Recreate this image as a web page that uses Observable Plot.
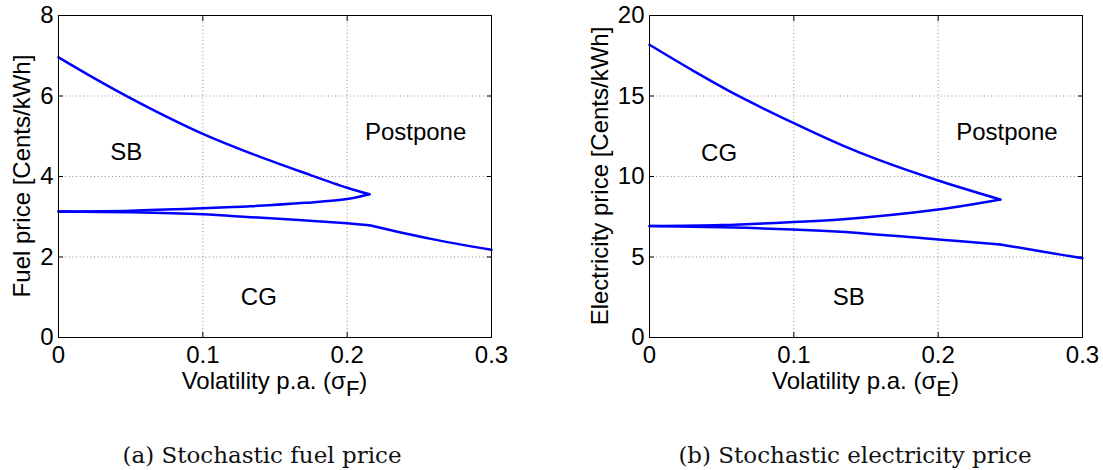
<!DOCTYPE html>
<html><head><meta charset="utf-8">
<script src="https://cdn.jsdelivr.net/npm/d3@7"></script>
<script src="https://cdn.jsdelivr.net/npm/@observablehq/plot@0.6"></script>
<style>
html,body{margin:0;padding:0;background:#fff;}
#fig{position:relative;width:1103px;height:470px;overflow:hidden;background:#fff;}
.panel{position:absolute;top:0;}
.cap{position:absolute;top:440px;font-family:"DejaVu Serif",serif;font-size:23px;line-height:30px;text-align:center;color:#111;white-space:nowrap;transform:translateX(-50%);}
</style></head><body>
<div id="fig">
  <div id="left" class="panel" style="left:0px"></div>
  <div id="right" class="panel" style="left:552px"></div>
  <div class="cap" style="left:262px">(a) Stochastic fuel price</div>
  <div class="cap" style="left:855px">(b) Stochastic electricity price</div>
</div>
<script>
// ---- axes ----
const xTicks = [0, 0.1, 0.2, 0.3];
const xGrid = [0.1, 0.2];
const fuelYTicks = [0, 2, 4, 6, 8];
const fuelYGrid = [2, 4, 6];
const elecYTicks = [0, 5, 10, 15, 20];
const elecYGrid = [5, 10, 15];

// ---- (a) stochastic fuel price ----
const fuelUpperX = [0, 0.021, 0.044, 0.0675, 0.1, 0.1365, 0.171, 0.2, 0.2155];
const fuelUpperY = [6.96, 6.52, 6.06, 5.62, 5.06, 4.53, 4.08, 3.72, 3.56];
const fuelMiddleX = [0, 0.05, 0.1, 0.133, 0.171, 0.2, 0.2155];
const fuelMiddleY = [3.13, 3.15, 3.21, 3.26, 3.345, 3.44, 3.56];
const fuelLowerLeftX = [0, 0.05, 0.1, 0.133, 0.2, 0.2155];
const fuelLowerLeftY = [3.13, 3.11, 3.06, 2.99, 2.84, 2.79];
const fuelLowerRightX = [0.2155, 0.258, 0.3];
const fuelLowerRightY = [2.79, 2.45, 2.18];
const fuelRegionLabels = ["SB", "Postpone", "CG"];
const fuelRegionX = [0.047, 0.2474, 0.1388];
const fuelRegionY = [4.6, 5.1, 0.99];

// ---- (b) stochastic electricity price ----
const elecUpperX = [0, 0.0306, 0.0606, 0.1, 0.1344, 0.1588, 0.2, 0.243];
const elecUpperY = [18.18, 16.55, 15.05, 13.31, 11.9, 11.03, 9.75, 8.57];
const elecMiddleX = [0, 0.05, 0.1, 0.1323, 0.2, 0.243];
const elecMiddleY = [6.92, 6.98, 7.17, 7.33, 7.95, 8.57];
const elecLowerLeftX = [0, 0.05, 0.1, 0.1323, 0.2, 0.243];
const elecLowerLeftY = [6.92, 6.85, 6.71, 6.57, 6.09, 5.78];
const elecLowerRightX = [0.243, 0.288, 0.3];
const elecLowerRightY = [5.78, 5.10, 4.92];
const elecRegionLabels = ["CG", "Postpone", "SB"];
const elecRegionX = [0.0482, 0.2476, 0.138];
const elecRegionY = [11.44, 12.75, 2.52];

function series(name, xs, ys) { return xs.map((x, i) => ({curve: name, x, y: ys[i]})); }
function regions(labels, xs, ys) { return labels.map((label, i) => ({label, x: xs[i], y: ys[i]})); }

const FS = 24;
const FONT = "'Liberation Sans', Arial, Helvetica, sans-serif";

function panel({width, marginLeft, marginRight, yDomain, yTicks, yGrid, lines, regs, ylabel, sub, ylabelOffset}) {
  const chart = Plot.plot({
    width, height: 400,
    marginLeft, marginRight, marginTop: 15, marginBottom: 63,
    style: {fontFamily: FONT, fontSize: FS + "px", color: "#000", background: "#fff"},
    x: {domain: [0, 0.3]},
    y: {domain: yDomain},
    marks: [
      Plot.gridX(xGrid, {stroke: "#8c8c8c", strokeOpacity: 1, strokeDasharray: "1,2.6"}),
      Plot.gridY(yGrid, {stroke: "#8c8c8c", strokeOpacity: 1, strokeDasharray: "1,2.6"}),
      Plot.axisX(xTicks, {anchor: "bottom", tickSize: 0, tickPadding: 8, fontSize: FS, tickFormat: d => String(d), label: null}),
      Plot.axisX(xTicks, {anchor: "bottom", tickSize: -5, fill: "none", label: null}),
      Plot.axisX(xTicks, {anchor: "top", tickSize: -5, fill: "none", label: null}),
      Plot.axisY(yTicks, {anchor: "left", tickSize: 0, tickPadding: 5, fontSize: FS, tickFormat: d => String(d), label: null}),
      Plot.axisY(yTicks, {anchor: "left", tickSize: -5, fill: "none", label: null}),
      Plot.axisY(yTicks, {anchor: "right", tickSize: -5, fill: "none", label: null}),
      Plot.line(lines, {x: "x", y: "y", z: "curve", stroke: "#0000ff", strokeWidth: 2.5, strokeLinejoin: "round", curve: "catmull-rom"}),
      Plot.text(regs, {x: "x", y: "y", text: "label", fontSize: FS}),
      Plot.frame({stroke: "#000", strokeWidth: 1})
    ]
  });
  const xs = chart.scale("x"), ys = chart.scale("y");
  const svg = d3.select(chart);
  const cx = (xs.range[0] + xs.range[1]) / 2;
  const bottom = Math.max(ys.range[0], ys.range[1]);
  const cy = (ys.range[0] + ys.range[1]) / 2;
  const xl = svg.append("text")
    .attr("x", cx).attr("y", bottom + 52)
    .attr("text-anchor", "middle").attr("fill", "#000").attr("font-size", FS);
  xl.append("tspan").text("Volatility p.a. (σ");
  xl.append("tspan").attr("dy", 7).attr("font-size", FS - 2).text(sub);
  xl.append("tspan").attr("dy", -7).text(")");
  svg.append("text")
    .attr("transform", `translate(${xs.range[0] - ylabelOffset},${cy}) rotate(-90)`)
    .attr("text-anchor", "middle").attr("dy", "0.35em").attr("fill", "#000").attr("font-size", FS)
    .text(ylabel);
  return chart;
}

const fuelLines = [
  ...series("upper", fuelUpperX, fuelUpperY),
  ...series("middle", fuelMiddleX, fuelMiddleY),
  ...series("lowerLeft", fuelLowerLeftX, fuelLowerLeftY),
  ...series("lowerRight", fuelLowerRightX, fuelLowerRightY)
];
const elecLines = [
  ...series("upper", elecUpperX, elecUpperY),
  ...series("middle", elecMiddleX, elecMiddleY),
  ...series("lowerLeft", elecLowerLeftX, elecLowerLeftY),
  ...series("lowerRight", elecLowerRightX, elecLowerRightY)
];

document.getElementById("left").appendChild(panel({
  width: 552, marginLeft: 58, marginRight: 61,
  yDomain: [0, 8], yTicks: fuelYTicks, yGrid: fuelYGrid,
  lines: fuelLines, regs: regions(fuelRegionLabels, fuelRegionX, fuelRegionY),
  ylabel: "Fuel price [Cents/kWh]", sub: "F", ylabelOffset: 36
}));
document.getElementById("right").appendChild(panel({
  width: 551, marginLeft: 97, marginRight: 21,
  yDomain: [0, 20], yTicks: elecYTicks, yGrid: elecYGrid,
  lines: elecLines, regs: regions(elecRegionLabels, elecRegionX, elecRegionY),
  ylabel: "Electricity price [Cents/kWh]", sub: "E", ylabelOffset: 49
}));
</script>
</body></html>
